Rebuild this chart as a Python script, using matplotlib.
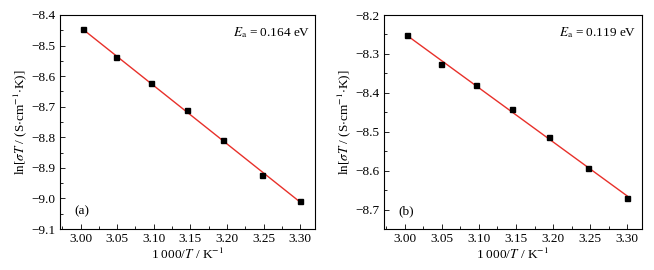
import numpy as np
import matplotlib
matplotlib.use("Agg")
import matplotlib.pyplot as plt
from matplotlib.ticker import MultipleLocator, FormatStrFormatter, FuncFormatter

plt.rcParams['font.family'] = ['Liberation Serif', 'DejaVu Serif']
plt.rcParams['mathtext.fontset'] = 'stix'
plt.rcParams['font.size'] = 9.5

# inverse temperature, 1000/T
x_a = [3.003, 3.049, 3.096, 3.145, 3.195, 3.247, 3.300]
y_a = [-8.447, -8.537, -8.623, -8.710, -8.808, -8.924, -9.008]
x_b = [3.003, 3.049, 3.096, 3.145, 3.195, 3.247, 3.300]
y_b = [-8.252, -8.326, -8.379, -8.442, -8.513, -8.594, -8.670]
ea_labels = ['0.164', '0.119']
panel_labels = ['(a)', '(b)']

fig = plt.figure(figsize=(6.54, 2.7), dpi=100)
ax1 = fig.add_axes([60/654, 41/270, 255/654, 214/270])
ax2 = fig.add_axes([384/654, 41/270, 258/654, 214/270])

data = [(ax1, x_a, y_a, (-9.1, -8.4)), (ax2, x_b, y_b, (-8.75, -8.2))]
for i, (ax, x, y, yl) in enumerate(data):
    k, b = np.polyfit(x, y, 1)
    xf = np.array([x[0], x[-1]])
    ax.plot(xf, k * xf + b, color='#e8302a', lw=1.0, zorder=2)
    ax.plot(x, y, 's', color='black', ms=3.6, zorder=3)
    ax.set_xlim(2.972, 3.32)
    ax.set_ylim(*yl)
    ax.xaxis.set_major_locator(MultipleLocator(0.05))
    ax.xaxis.set_minor_locator(MultipleLocator(0.025))
    ax.yaxis.set_major_locator(MultipleLocator(0.1))
    ax.yaxis.set_minor_locator(MultipleLocator(0.05))
    ax.tick_params(which='both', direction='in', top=False, right=False)
    ax.tick_params(which='major', length=3.5, width=0.6, pad=3)
    ax.tick_params(which='minor', length=2, width=0.6)
    for s in ax.spines.values():
        s.set_linewidth(0.8)
    ax.xaxis.set_major_formatter(FormatStrFormatter('%.2f'))
    ax.yaxis.set_major_formatter(FuncFormatter(lambda v, p: ('%.1f' % v).replace('-', '\u2212')))
    ax.set_xlabel('1 000/$T$ / K$^{-1}$', labelpad=1)
    ax.set_ylabel(r'ln[$\sigma T$ / (S$\cdot$cm$^{-1}$$\cdot$K)]', labelpad=2)
    ax.text(0.68, 0.9, r'$E_{\rm a}$ = ' + ea_labels[i] + ' eV', transform=ax.transAxes, fontsize=9.5)
    ax.text(0.055, 0.07, panel_labels[i], transform=ax.transAxes, fontsize=9.5)

fig.savefig('out.png', dpi=100)
